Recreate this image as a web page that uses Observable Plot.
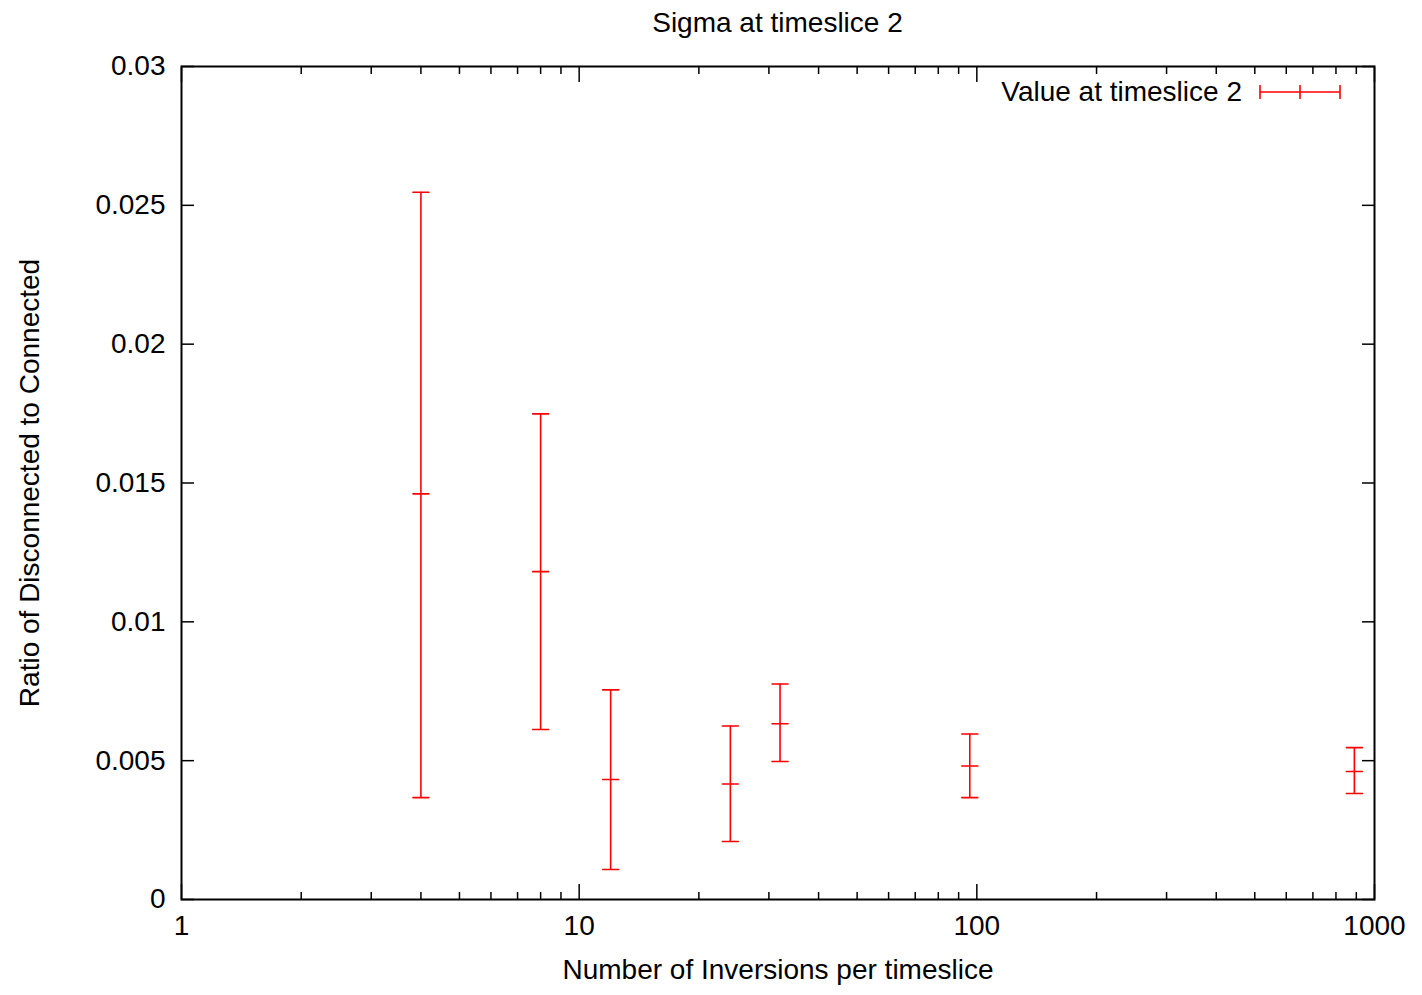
<!DOCTYPE html>
<html><head><meta charset="utf-8">
<script src="https://cdn.jsdelivr.net/npm/d3@7"></script>
<script src="https://cdn.jsdelivr.net/npm/@observablehq/plot@0.6"></script>
<style>
body{margin:0;background:#fff;font-family:"Liberation Sans",Arial,sans-serif;}
#wrap{position:relative;width:1422px;}
#title{height:44px;line-height:46px;text-align:center;font-size:28px;color:#000;padding-left:133px;box-sizing:border-box;}
#legend{position:absolute;right:80px;top:76px;display:flex;align-items:center;font-size:28px;color:#000;}
#legend svg{margin-left:16px;}
</style></head>
<body><div id="wrap"><div id="title">Sigma at timeslice 2</div><div id="chart"></div>
<div id="legend"><span>Value at timeslice 2</span><svg width="84" height="20"></svg></div></div>
<script>
const inversions = [4, 8, 12, 24, 32, 96, 890];
const value = [0.01461, 0.01181, 0.00432, 0.00416, 0.00633, 0.00481, 0.00461];
const low   = [0.00367, 0.00612, 0.00108, 0.00209, 0.00497, 0.00367, 0.00382];
const high  = [0.02547, 0.01749, 0.00755, 0.00625, 0.00776, 0.00596, 0.00547];
const xMajor = [1, 10, 100, 1000];
const xMinor = [2,3,4,5,6,7,8,9,20,30,40,50,60,70,80,90,200,300,400,500,600,700,800,900];
const yTicks = [0, 0.005, 0.01, 0.015, 0.02, 0.025, 0.03];
const seriesName = "Value at timeslice 2";
const titleText = "Sigma at timeslice 2";
const xLabel = "Number of Inversions per timeslice";
const yLabel = "Ratio of Disconnected to Connected";

document.getElementById("title").textContent = titleText;
document.querySelector("#legend span").textContent = seriesName;

const data = inversions.map((x, i) => ({x, v: value[i], lo: low[i], hi: high[i]}));
const red = "#ff0000";
const hbar = {draw(ctx, l) { ctx.moveTo(0, 0); ctx.lineTo(0, -l); }};

const chart = Plot.plot({
  width: 1422, height: 951,
  marginTop: 22, marginBottom: 96, marginLeft: 181, marginRight: 48,
  style: {fontFamily: '"Liberation Sans", Arial, sans-serif', fontSize: "28px", color: "#000", background: "#fff"},
  x: {type: "log", domain: [1, 1000]},
  y: {domain: [0, 0.03]},
  marks: [
    Plot.axisX({ticks: xMajor, tickSize: 0, tickPadding: 16, tickFormat: d => String(d), label: xLabel, labelAnchor: "center", labelArrow: "none", labelOffset: 79, fontSize: 28}),
    Plot.axisX({ticks: xMajor, tickSize: -15, text: null, label: null, strokeWidth: 1.5}),
    Plot.axisX({ticks: xMinor, tickSize: -7, text: null, label: null, strokeWidth: 1.5}),
    Plot.axisX({anchor: "top", ticks: xMajor, tickSize: -15, text: null, label: null, strokeWidth: 1.5}),
    Plot.axisX({anchor: "top", ticks: xMinor, tickSize: -7, text: null, label: null, strokeWidth: 1.5}),
    Plot.axisY({ticks: yTicks, tickSize: 0, tickPadding: 16, tickFormat: d => String(d), label: yLabel, labelAnchor: "center", labelArrow: "none", labelOffset: 162, fontSize: 28}),
    Plot.axisY({ticks: yTicks, tickSize: -13, text: null, label: null, strokeWidth: 1.5}),
    Plot.axisY({anchor: "right", ticks: yTicks, tickSize: -13, text: null, label: null, strokeWidth: 1.5}),
    Plot.frame({stroke: "#000", strokeWidth: 2}),
    Plot.ruleX(data, {x: "x", y1: "lo", y2: "hi", stroke: red, strokeWidth: 1.6}),
    Plot.vector(data, {x: "x", y: "hi", length: 16, rotate: 90, anchor: "middle", shape: hbar, stroke: red, strokeWidth: 1.6}),
    Plot.vector(data, {x: "x", y: "lo", length: 16, rotate: 90, anchor: "middle", shape: hbar, stroke: red, strokeWidth: 1.6}),
    Plot.vector(data, {x: "x", y: "v", length: 16, rotate: 90, anchor: "middle", shape: hbar, stroke: red, strokeWidth: 1.6})
  ]
});
document.getElementById("chart").appendChild(chart);

// legend sample: horizontal error bar
const lg = d3.select("#legend svg");
lg.append("line").attr("x1", 2).attr("x2", 82).attr("y1", 10).attr("y2", 10).attr("stroke", red).attr("stroke-width", 1.6);
[2, 42, 82].forEach(px => lg.append("line").attr("x1", px).attr("x2", px).attr("y1", 3).attr("y2", 17).attr("stroke", red).attr("stroke-width", 1.6));
</script></body></html>
